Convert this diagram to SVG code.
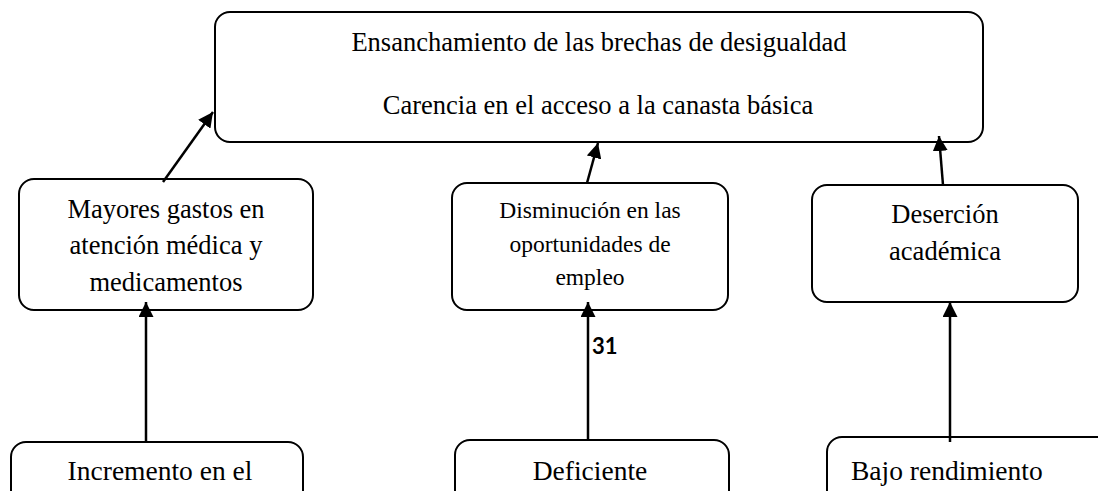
<svg xmlns="http://www.w3.org/2000/svg" width="1098" height="491" viewBox="0 0 1098 491">
<style>
.box{fill:#fff;stroke:#000;stroke-width:2}
.t{font-family:"Liberation Serif","Times New Roman",serif;font-size:26.5px;fill:#000;text-anchor:middle}
.ts{font-family:"Liberation Serif","Times New Roman",serif;font-size:23.5px;fill:#000;text-anchor:middle}
.c{stroke:#000;stroke-width:2.5;fill:none;marker-end:url(#ah)}
.num{font-family:Lato,"Open Sans",sans-serif;font-weight:bold;font-size:22px;fill:#000}
</style>
<defs>
<marker id="ah" markerUnits="userSpaceOnUse" markerWidth="16" markerHeight="15" refX="15" refY="7.5" orient="auto">
<path d="M0,0 L15,7.5 L0,15 z" fill="#000"/>
</marker>
</defs>
<rect width="1098" height="491" fill="#fff"/>
<g id="top">
<rect class="box" x="215" y="12" width="768" height="130" rx="15"/>
<text class="t" x="599" y="51">Ensanchamiento de las brechas de desigualdad</text>
<text class="t" x="598" y="114">Carencia en el acceso a la canasta básica</text>
</g>
<g id="mayores">
<rect class="box" x="19" y="179" width="294" height="131" rx="15"/>
<text class="t" x="166" y="218">Mayores gastos en</text>
<text class="t" x="166" y="254">atención médica y</text>
<text class="t" x="166" y="291">medicamentos</text>
</g>
<g id="disminucion">
<rect class="box" x="452" y="183" width="276" height="127" rx="15"/>
<text class="ts" x="590" y="218">Disminución en las</text>
<text class="ts" x="590" y="252">oportunidades de</text>
<text class="ts" x="590" y="285">empleo</text>
</g>
<g id="desercion">
<rect class="box" x="812" y="185" width="266" height="117" rx="15"/>
<text class="t" x="945" y="223">Deserción</text>
<text class="t" x="945" y="260">académica</text>
</g>
<g id="incremento">
<rect class="box" x="11" y="442" width="292" height="80" rx="15"/>
<text class="t" x="160" y="480" style="font-size:27.5px">Incremento en el</text>
</g>
<g id="deficiente">
<rect class="box" x="455" y="440" width="274" height="80" rx="15"/>
<text class="t" x="590" y="480" style="font-size:27.5px">Deficiente</text>
</g>
<g id="bajo">
<rect class="box" x="827" y="437" width="300" height="80" rx="15"/>
<text class="t" x="851" y="480" style="font-size:27.5px;text-anchor:start">Bajo rendimiento</text>
</g>
<g id="connectors">
<line class="c" x1="163" y1="182" x2="213" y2="112"/>
<line class="c" x1="587" y1="183" x2="598" y2="143"/>
<line class="c" x1="943" y1="185" x2="939" y2="136"/>
<line class="c" x1="146" y1="442" x2="146" y2="302"/>
<line class="c" x1="588" y1="440" x2="588" y2="302"/>
<line class="c" x1="950" y1="442" x2="950" y2="302"/>
</g>
<text class="num" x="592" y="354">31</text>
</svg>
